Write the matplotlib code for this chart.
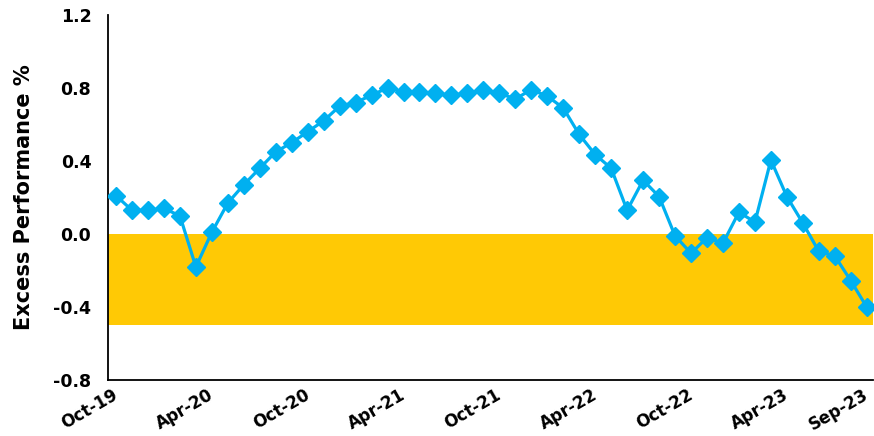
import matplotlib
matplotlib.use("Agg")
import matplotlib.pyplot as plt
from matplotlib.transforms import ScaledTranslation

months = ["Oct-19","Nov-19","Dec-19","Jan-20","Feb-20","Mar-20","Apr-20","May-20","Jun-20","Jul-20","Aug-20","Sep-20",
          "Oct-20","Nov-20","Dec-20","Jan-21","Feb-21","Mar-21","Apr-21","May-21","Jun-21","Jul-21","Aug-21","Sep-21",
          "Oct-21","Nov-21","Dec-21","Jan-22","Feb-22","Mar-22","Apr-22","May-22","Jun-22","Jul-22","Aug-22","Sep-22",
          "Oct-22","Nov-22","Dec-22","Jan-23","Feb-23","Mar-23","Apr-23","May-23","Jun-23","Jul-23","Aug-23","Sep-23"]
excess = [0.21, 0.13, 0.13, 0.14, 0.10, -0.18, 0.01, 0.17, 0.27, 0.36, 0.45, 0.50,
          0.56, 0.62, 0.70, 0.72, 0.76, 0.80, 0.78, 0.775, 0.77, 0.76, 0.77, 0.79,
          0.77, 0.74, 0.79, 0.755, 0.69, 0.545, 0.435, 0.36, 0.13, 0.295, 0.205, -0.01,
          -0.105, -0.02, -0.05, 0.12, 0.065, 0.405, 0.205, 0.06, -0.095, -0.12, -0.255, -0.40]
tick_labels = ["Oct-19","Apr-20","Oct-20","Apr-21","Oct-21","Apr-22","Oct-22","Apr-23","Sep-23"]
band_low, band_high = -0.5, 0.0
yticks = [-0.8, -0.4, 0.0, 0.4, 0.8, 1.2]

fig = plt.figure(figsize=(8.74, 4.36), dpi=100)
ax = fig.add_axes([0.1236, 0.128, 0.8754, 0.838])

x = list(range(len(months)))
ax.axhspan(band_low, band_high, color="#FFC905", zorder=1, lw=0)
ax.plot(x, excess, color="#00B0F0", lw=2.3, marker="D", markersize=9.5, zorder=3)

ax.set_xlim(-0.5, 47.4)
ax.set_ylim(-0.8, 1.2)
ax.set_yticks(yticks)
ax.set_yticklabels([f"{v:.1f}" for v in yticks], fontsize=12.5, fontweight="bold")
tick_pos = [months.index(t) for t in tick_labels]
ax.set_xticks(tick_pos)
ax.set_xticklabels(tick_labels, rotation=30, ha="right", rotation_mode="anchor",
                   fontsize=12, fontweight="bold")
ax.tick_params(axis="both", length=0)
ax.tick_params(axis="y", pad=12)
ax.tick_params(axis="x", pad=4)
offset = ScaledTranslation(-4 / 100, 0, fig.dpi_scale_trans)
for lab in ax.get_xticklabels():
    lab.set_transform(lab.get_transform() + offset)

for s in ["top", "right"]:
    ax.spines[s].set_visible(False)
for s in ["left", "bottom"]:
    ax.spines[s].set_linewidth(1.3)
    ax.spines[s].set_color("black")

ax.set_ylabel("Excess Performance %", fontsize=15, fontweight="bold", labelpad=14)

fig.savefig("out.png", dpi=100)
